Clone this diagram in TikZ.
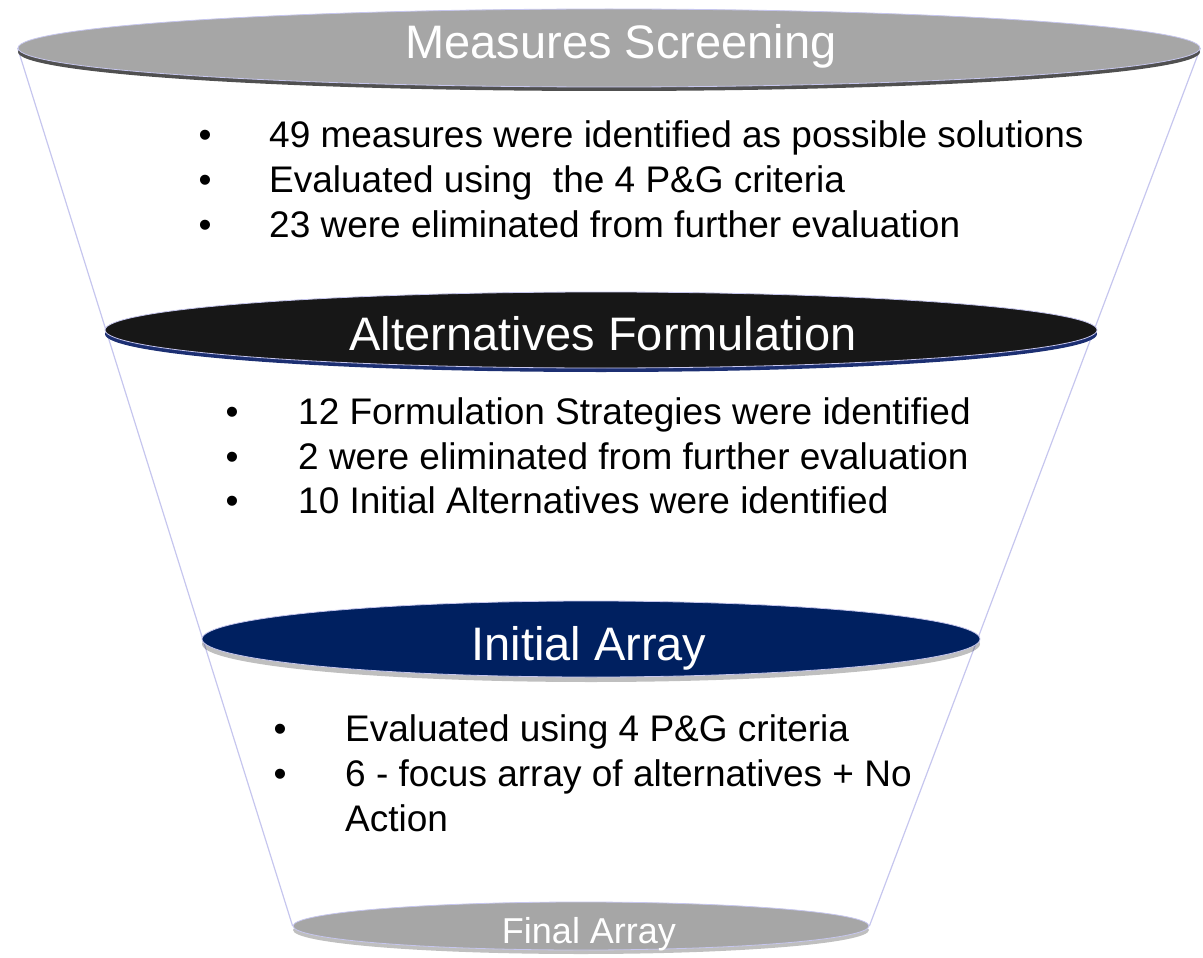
\documentclass[tikz,border=0pt]{standalone}
\usepackage{fontspec}
\setmainfont{Liberation Sans}
\usetikzlibrary{shapes.geometric,shadows}
\definecolor{rim}{HTML}{C6C6EE}
\definecolor{capgray}{HTML}{A6A6A6}
\definecolor{capgrayshade}{HTML}{505050}
\definecolor{capblack}{HTML}{171717}
\definecolor{capblackshade}{HTML}{1C2F72}
\definecolor{capnavy}{HTML}{002060}
\pgfdeclarelayer{bg}
\pgfsetlayers{bg,main}
\begin{document}
\begin{tikzpicture}[x=1pt,y=-1pt,
  disc/.style={ellipse, inner sep=0pt, draw=rim, line width=0.8pt},
  head/.style={text=white, inner sep=0pt, anchor=base, font=\fontsize{47}{56}\selectfont},
  dot/.style={inner sep=0pt, anchor=base, font=\fontsize{37}{44}\selectfont},
  item/.style={inner sep=0pt, anchor=base west, font=\fontsize{37}{44}\selectfont},
  funnel/.style={draw=rim, line width=1.2pt}]
\useasboundingbox (0,0) rectangle (1203,958);

% the four stage discs, widest at the top
\node[disc, fill=capgray, minimum width=1182pt, minimum height=78pt,
  drop shadow={shadow xshift=0pt, shadow yshift=-4pt, fill=capgrayshade, opacity=1}] (ms) at (609,48) {};
\node[disc, fill=capblack, minimum width=992pt, minimum height=76pt,
  drop shadow={shadow xshift=0pt, shadow yshift=-4pt, fill=capblackshade, opacity=1}] (af) at (601,330) {};
\node[disc, fill=capnavy, minimum width=778pt, minimum height=76pt,
  drop shadow={shadow xshift=0pt, shadow yshift=-5pt, fill=black, opacity=.25}] (ia) at (591,639) {};
\node[disc, fill=capgray, minimum width=576pt, minimum height=48pt,
  drop shadow={shadow xshift=0pt, shadow yshift=-4pt, fill=black, opacity=.25}] (fa) at (581,926) {};

% funnel walls and the overflowing title line, all behind the discs
\begin{pgfonlayer}{bg}
\draw[funnel] (ms.west) -- (fa.west);
\draw[funnel] (ms.east) -- (fa.east);
\node[head] (t3b) at (589,704) {Screening};
\end{pgfonlayer}

% stage titles
\node[head] (t1) at (621,59) {Measures Screening};
\node[head] (t2) at (603,350) {Alternatives Formulation};
\node[head] (t3) at (589,660) {Initial Array};
\node[head, font=\fontsize{36}{43}\selectfont] (t4) at (589,943) {Final Array};

% measures screening
\node[dot] (b11) at (205,147) {•};
\node[item] (l11) at (269,147) {49 measures were identified as possible solutions};
\node[dot] (b12) at (205,192) {•};
\node[item] (l12) at (269,192) {Evaluated using~ the 4 P\&G criteria};
\node[dot] (b13) at (205,237) {•};
\node[item] (l13) at (269,237) {23 were eliminated from further evaluation};

% alternatives formulation
\node[dot] (b21) at (232,424) {•};
\node[item] (l21) at (298,424) {12 Formulation Strategies were identified};
\node[dot] (b22) at (232,469) {•};
\node[item] (l22) at (298,469) {2 were eliminated from further evaluation};
\node[dot] (b23) at (232,513) {•};
\node[item] (l23) at (298,513) {10 Initial Alternatives were identified};

% initial array
\node[dot] (b31) at (280,741) {•};
\node[item] (l31) at (345,741) {Evaluated using 4 P\&G criteria};
\node[dot] (b32) at (280,786) {•};
\node[item] (l32) at (345,786) {6 - focus array of alternatives + No};
\node[item] (l33) at (345,831) {Action};
\end{tikzpicture}
\end{document}
